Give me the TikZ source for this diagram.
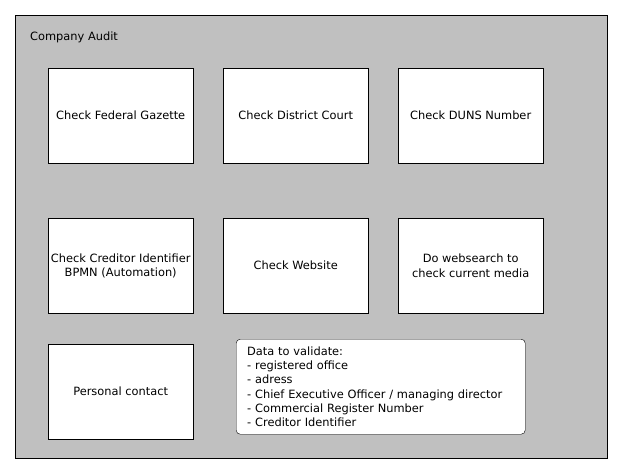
\documentclass[tikz,border=0pt]{standalone}
\usepackage{fontspec}
\setmainfont{DejaVu Sans}
\definecolor{poolgrey}{HTML}{C0C0C0}
\usetikzlibrary{positioning}

\begin{document}
\begin{tikzpicture}[x=1pt, y=-1pt,
  task/.style={rectangle, draw=black, fill=white, minimum width=145pt, minimum height=95pt, align=center, font=\fontsize{11.4}{14.3}\selectfont, inner sep=0pt, anchor=north west},
  note/.style={rectangle, draw=black, fill=white, rounded corners=4pt, minimum width=289pt, minimum height=95pt, align=left, font=\fontsize{11.4}{14.3}\selectfont, inner xsep=11pt, inner ysep=0pt, anchor=north west, text width=267pt},
  node distance=0pt]
\useasboundingbox (0,0) rectangle (622,472);
\node[rectangle, draw=black, fill=poolgrey, minimum width=592pt, minimum height=443pt, anchor=north west, inner sep=0pt] (audit) at (15,15) {};
\node[font=\fontsize{11.4}{14.3}\selectfont, anchor=west, inner sep=0pt] (title) at (30,37) {Company Audit};
\node[task] (gazette) at (48,68) {Check Federal Gazette};
\node[task] (court) at (223,68) {Check District Court};
\node[task] (duns) at (398,68) {Check DUNS Number};
\node[task] (creditor) at (48,218) {Check Creditor Identifier\\BPMN (Automation)};
\node[task] (website) at (223,218) {Check Website};
\node[task] (media) at (398,218) {Do websearch to\\check current media};
\node[task] (contact) at (48,344) {Personal contact};
\node[note] (data) at (236,339) {Data to validate:\\
- registered office\\
- adress\\
- Chief Executive Officer / managing director\\
- Commercial Register Number\\
- Creditor Identifier};
\end{tikzpicture}
\end{document}
